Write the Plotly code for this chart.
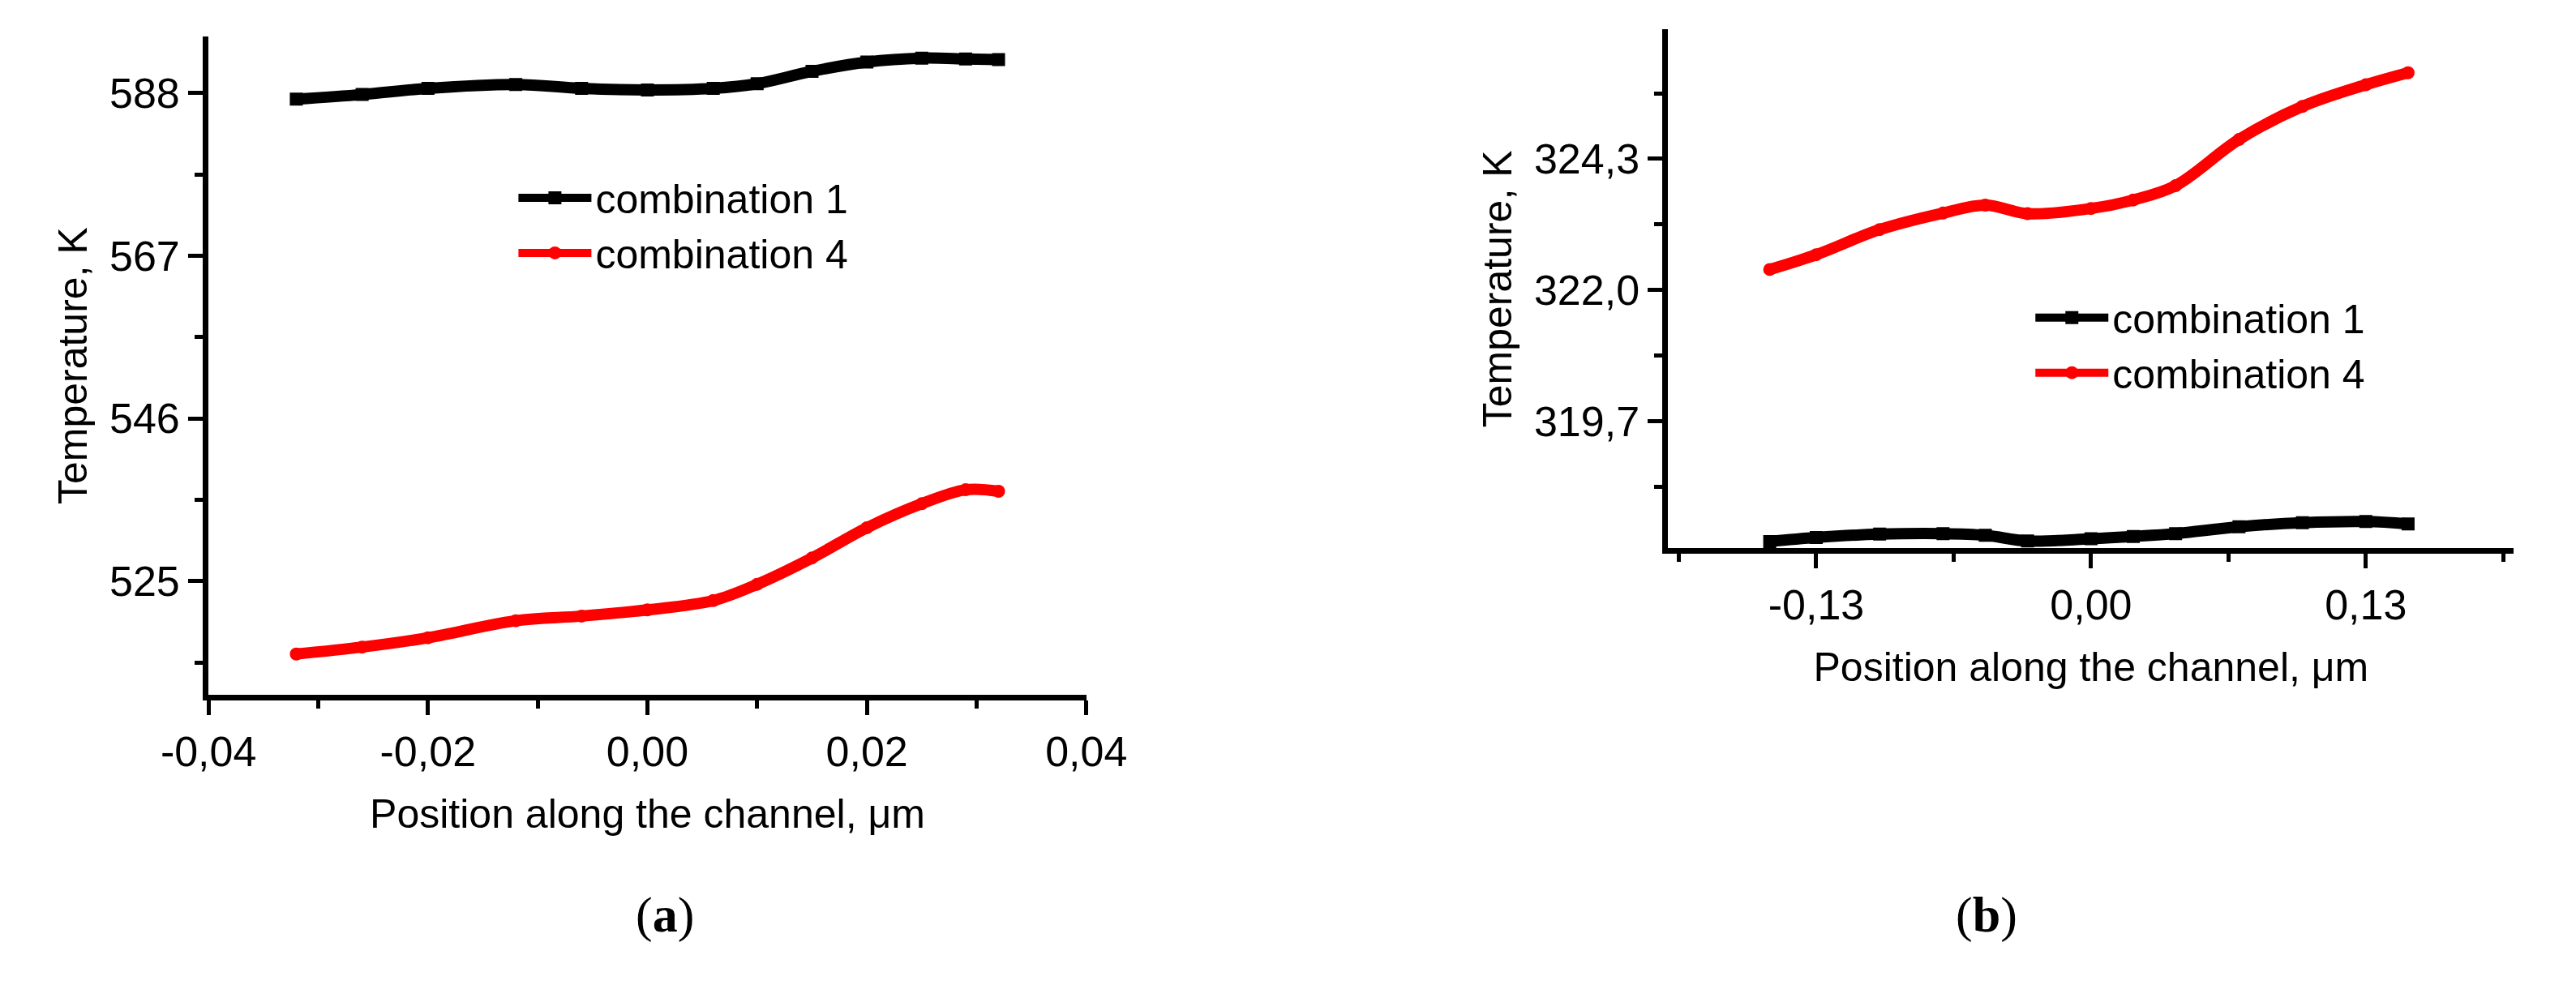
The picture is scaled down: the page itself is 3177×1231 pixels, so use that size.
import plotly.graph_objects as go

# panel (a)
xa = [-0.032, -0.026, -0.020, -0.012, -0.006, 0.000, 0.006, 0.010, 0.015, 0.020, 0.025, 0.029, 0.032]
a_comb1 = [587.2, 587.8, 588.6, 589.1, 588.6, 588.4, 588.6, 589.2, 590.8, 592.0, 592.5, 592.4, 592.3]
a_comb4 = [515.6, 516.5, 517.7, 519.9, 520.5, 521.3, 522.5, 524.6, 528.0, 531.9, 535.0, 536.8, 536.6]

# panel (b)
xb = [-0.152, -0.13, -0.10, -0.07, -0.05, -0.03, 0.00, 0.02, 0.04, 0.07, 0.10, 0.13, 0.15]
b_comb1 = [317.59, 317.66, 317.72, 317.73, 317.70, 317.60, 317.64, 317.68, 317.73, 317.85, 317.92, 317.94, 317.90]
b_comb4 = [322.36, 322.62, 323.06, 323.35, 323.49, 323.34, 323.43, 323.58, 323.83, 324.64, 325.22, 325.60, 325.81]

a_xticks = [-0.04, -0.02, 0.0, 0.02, 0.04]
a_xlabels = ["-0,04", "-0,02", "0,00", "0,02", "0,04"]
a_yticks = [525, 546, 567, 588]
b_xticks = [-0.13, 0.0, 0.13]
b_xlabels = ["-0,13", "0,00", "0,13"]
b_yticks = [319.7, 322.0, 324.3]
b_ylabels = ["319,7", "322,0", "324,3"]

FONT = "Liberation Sans, Arial, sans-serif"
fig = go.Figure()

def add(x, y, name, color, symbol, xax, yax, leg):
    fig.add_trace(go.Scatter(
        x=x, y=y, name=name, mode="lines+markers", xaxis=xax, yaxis=yax, legend=leg,
        line=dict(color=color, width=14, shape="spline"),
        marker=dict(color=color, symbol=symbol, size=16)))

add(xa, a_comb1, "combination 1", "black", "square", "x", "y", "legend")
add(xa, a_comb4, "combination 4", "red", "circle", "x", "y", "legend")
add(xb, b_comb1, "combination 1", "black", "square", "x2", "y2", "legend2")
add(xb, b_comb4, "combination 4", "red", "circle", "x2", "y2", "legend2")

ax = dict(showline=True, linecolor="black", linewidth=7, ticks="outside", ticklen=18,
          tickwidth=5, tickcolor="black", showgrid=False, zeroline=False,
          tickfont=dict(size=52, family=FONT, color="black"),
          minor=dict(ticks="outside", ticklen=10, tickwidth=5, tickcolor="black"))
tfont = dict(size=50, family=FONT, color="black")

fig.update_layout(
    width=3177, height=1231, plot_bgcolor="white", paper_bgcolor="white",
    margin=dict(l=0, r=0, t=0, b=0),
    xaxis=dict(ax, domain=[0.062, 0.415], range=[-0.04, 0.04], tickvals=a_xticks, ticktext=a_xlabels,
               title=dict(text="Position along the channel, μm", font=tfont, standoff=34), anchor="y",
               minor=dict(ax["minor"], dtick=0.01)),
    yaxis=dict(ax, domain=[0.31, 0.97], range=[510.3, 595.3], tickvals=a_yticks,
               title=dict(text="Temperature, K", font=tfont, standoff=14), anchor="x",
               minor=dict(ax["minor"], tickvals=[514.5, 535.5, 556.5, 577.5])),
    xaxis2=dict(ax, domain=[0.649, 0.989], range=[-0.2, 0.2], tickvals=b_xticks, ticktext=b_xlabels,
                title=dict(text="Position along the channel, μm", font=tfont, standoff=34), anchor="y2",
                minor=dict(ax["minor"], tickvals=[-0.195, -0.065, 0.065, 0.195])),
    yaxis2=dict(ax, domain=[0.457, 0.977], range=[317.47, 326.57], tickvals=b_yticks, ticktext=b_ylabels,
                title=dict(text="Temperature, K", font=tfont, standoff=14), anchor="x2",
                minor=dict(ax["minor"], tickvals=[318.55, 320.85, 323.15, 325.45])),
    legend=dict(x=0.185, y=0.84, xanchor="left", yanchor="top", bgcolor="rgba(0,0,0,0)",
                font=tfont, tracegroupgap=0, itemwidth=90),
    legend2=dict(x=0.795, y=0.72, xanchor="left", yanchor="top", bgcolor="rgba(0,0,0,0)",
                 font=tfont, tracegroupgap=0, itemwidth=90),
    annotations=[
        dict(text="(<b>a</b>)", x=0.233, y=0.06, xref="paper", yref="paper", showarrow=False,
             font=dict(size=62, family="Liberation Serif, Times New Roman, serif", color="black")),
        dict(text="(<b>b</b>)", x=0.79, y=0.06, xref="paper", yref="paper", showarrow=False,
             font=dict(size=62, family="Liberation Serif, Times New Roman, serif", color="black")),
    ],
)

fig.write_html("out.html")
